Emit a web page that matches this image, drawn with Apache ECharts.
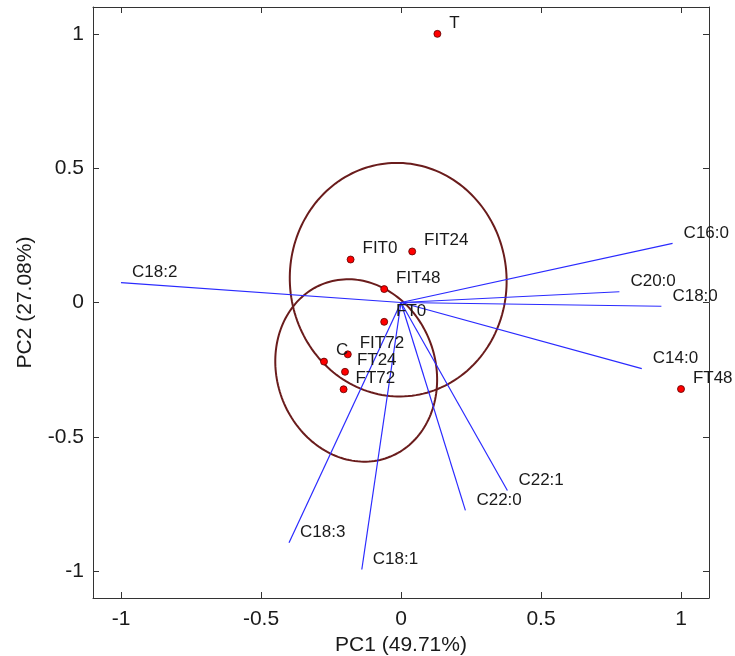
<!DOCTYPE html>
<html>
<head>
<meta charset="utf-8">
<script src="https://cdn.jsdelivr.net/npm/echarts@6/dist/echarts.min.js"></script>
<style>html,body{margin:0;padding:0;background:#fff;}#c{width:735px;height:656px;}</style>
</head>
<body>
<div id="c"></div>
<script>
// ---- data ----
const axisTicks = [-1, -0.5, 0, 0.5, 1];
const pointNames = ['T', 'FIT0', 'FIT24', 'FIT48', 'FT0', 'C', 'FIT72', 'FT24', 'FT72', 'FT48'];
const pointX = [0.13, -0.18, 0.04, -0.06, -0.06, -0.275, -0.19, -0.20, -0.205, 1.0];
const pointY = [1.0, 0.16, 0.19, 0.05, -0.072, -0.22, -0.193, -0.258, -0.323, -0.322];
const vectorNames = ['C18:2', 'C16:0', 'C20:0', 'C18:0', 'C14:0', 'C22:1', 'C22:0', 'C18:3', 'C18:1'];
const vectorX = [-1.0, 0.97, 0.78, 0.93, 0.86, 0.38, 0.23, -0.40, -0.14];
const vectorY = [0.074, 0.22, 0.04, -0.014, -0.246, -0.70, -0.774, -0.894, -0.994];
const ellipseCX = [-0.01, -0.16];
const ellipseCY = [0.085, -0.253];
const ellipseA = [0.435, 0.345];   // vertical-ish semi-axis
const ellipseB = [0.387, 0.283];   // horizontal-ish semi-axis
const ellipseTilt = [5, 20];       // degrees

const FONT = "'Liberation Sans', Arial, sans-serif";
const TEXT = '#1a1a1a';

const points = pointNames.map((n, i) => [pointX[i], pointY[i], n]);
const vectors = vectorNames.map((n, i) => [vectorX[i], vectorY[i], n]);
const ellipses = ellipseCX.map((c, i) => [c, ellipseCY[i], ellipseA[i], ellipseB[i], ellipseTilt[i]]);

const chart = echarts.init(document.getElementById('c'), null, {renderer: 'canvas'});

function baseAxis(extra) {
  return Object.assign({
    type: 'value', min: -1.1, max: 1.1,
    axisLine: {show: true, onZero: false, lineStyle: {color: '#333', width: 1}},
    axisTick: {show: true, inside: true, length: 6, customValues: axisTicks, lineStyle: {color: '#333'}},
    splitLine: {show: false},
    axisLabel: {show: false}
  }, extra);
}

const option = {
  animation: false,
  backgroundColor: '#fff',
  grid: {left: 93, right: 26, top: 7, bottom: 58, containLabel: false, outerBoundsMode: 'none'},
  xAxis: [
    baseAxis({
      position: 'bottom',
      name: 'PC1 (49.71%)', nameLocation: 'middle', nameGap: 36,
      nameTextStyle: {fontFamily: FONT, fontSize: 21, color: TEXT},
      axisLabel: {show: true, customValues: axisTicks, margin: 11, fontFamily: FONT, fontSize: 21, color: TEXT,
        formatter: v => String(v)}
    }),
    baseAxis({position: 'top'})
  ],
  yAxis: [
    baseAxis({
      position: 'left',
      name: 'PC2 (27.08%)', nameLocation: 'middle', nameGap: 57, nameRotate: 90,
      nameTextStyle: {fontFamily: FONT, fontSize: 21, color: TEXT},
      axisLabel: {show: true, customValues: axisTicks, margin: 9, fontFamily: FONT, fontSize: 21, color: TEXT,
        formatter: v => String(v)}
    }),
    baseAxis({position: 'right'})
  ],
  series: [
    {
      type: 'custom',
      name: 'ellipses',
      xAxisIndex: 0, yAxisIndex: 0,
      data: ellipses,
      z: 2,
      renderItem: function (params, api) {
        const c = api.coord([api.value(0), api.value(1)]);
        const sz = api.size([api.value(3), api.value(2)]);
        const bp = sz[0], ap = sz[1];
        const th = api.value(4) * Math.PI / 180;
        const uMaj = [-Math.sin(th), -Math.cos(th)];
        const uMin = [Math.cos(th), -Math.sin(th)];
        const pts = [];
        for (let k = 0; k < 180; k++) {
          const t = k / 180 * Math.PI * 2;
          const s = Math.sin(t) * ap, q = Math.cos(t) * bp;
          pts.push([c[0] + s * uMaj[0] + q * uMin[0], c[1] + s * uMaj[1] + q * uMin[1]]);
        }
        return {type: 'polygon', shape: {points: pts}, style: {fill: 'none', stroke: '#6a1c1c', lineWidth: 2}};
      }
    },
    {
      type: 'custom',
      name: 'vectors',
      xAxisIndex: 0, yAxisIndex: 0,
      data: vectors,
      z: 3,
      renderItem: function (params, api) {
        const o = api.coord([0, 0]);
        const e = api.coord([api.value(0), api.value(1)]);
        return {
          type: 'group',
          children: [
            {type: 'line', shape: {x1: o[0], y1: o[1], x2: e[0], y2: e[1]}, style: {stroke: '#2a2aff', lineWidth: 1.2}},
            {type: 'text', x: e[0] + 11, y: e[1] - 10,
              style: {text: vectors[params.dataIndex][2], fill: TEXT, font: '17px ' + FONT, textAlign: 'left', textVerticalAlign: 'middle'}}
          ]
        };
      }
    },
    {
      type: 'scatter',
      name: 'samples',
      xAxisIndex: 0, yAxisIndex: 0,
      data: points,
      z: 4,
      symbol: 'circle',
      symbolSize: 7,
      itemStyle: {color: '#ff0000', borderColor: '#5a0000', borderWidth: 0.8, opacity: 1},
      label: {show: true, position: 'right', distance: 8, offset: [0, -11],
        formatter: p => p.data[2], fontFamily: FONT, fontSize: 17, color: TEXT}
    }
  ]
};
chart.setOption(option);
</script>
</body>
</html>
